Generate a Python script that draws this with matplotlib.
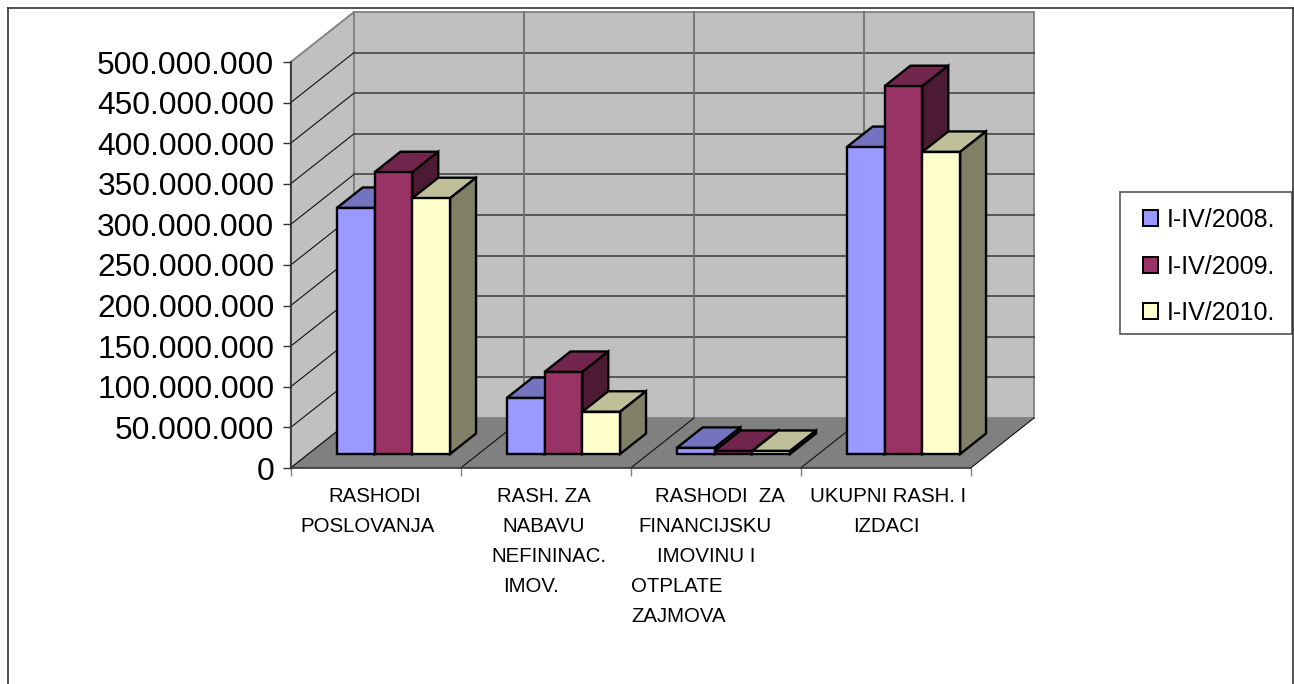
import matplotlib
matplotlib.use("Agg")
import matplotlib.pyplot as plt
from matplotlib.patches import Polygon, Patch, Rectangle
from matplotlib.lines import Line2D
from matplotlib.ticker import FuncFormatter

plt.rcParams['font.family'] = ['Liberation Sans', 'DejaVu Sans']

# ---- data
categories = ["RASHODI POSLOVANJA", "RASH. ZA NABAVU NEFININAC. IMOV.",
              "RASHODI ZA FINANCIJSKU IMOVINU I OTPLATE ZAJMOVA",
              "UKUPNI RASH. I IZDACI"]
series_names = ["I-IV/2008.", "I-IV/2009.", "I-IV/2010."]
values_2008 = [303e6, 69e6, 7.5e6, 378e6]
values_2009 = [347e6, 101e6, 3.7e6, 453e6]
values_2010 = [315e6, 52e6, 3.7e6, 372e6]
y_ticks = list(range(0, 500000001, 50000000))

# ---- label lines as broken in the picture (text, left px, centre px)
label_lines = [
    ("RASHODI", 328, 496), ("POSLOVANJA", 300, 526),
    ("RASH. ZA", 497, 496), ("NABAVU", 502, 526), ("NEFININAC.", 491, 557), ("IMOV.", 503, 587),
    ("RASHODI  ZA", 655, 496), ("FINANCIJSKU", 638, 526), ("IMOVINU I", 657, 557),
    ("OTPLATE", 631, 586), ("ZAJMOVA", 631, 616),
    ("UKUPNI RASH. I", 810, 496), ("IZDACI", 853, 526),
]

# ---- styles
W, H = 1294, 684
FRONT_L, FRONT_R, FRONT_T, FRONT_B = 290.7, 970.7, 62, 468
DEPTH_PX = (63.3, 50)
faces = [("#9999FF", "#7373BF", "#4D4D80"),
         ("#993366", "#73264D", "#4D1A33"),
         ("#FFFFCC", "#BFBF99", "#808066")]

fig = plt.figure(figsize=(W / 100, H / 100), dpi=100, facecolor="white")
ax = fig.add_axes([FRONT_L / W, 1 - FRONT_B / H, (FRONT_R - FRONT_L) / W, (FRONT_B - FRONT_T) / H])
n = len(categories)
ax.set_xlim(0, n)
ax.set_ylim(0, 500e6)
ax.patch.set_alpha(0)

DX = DEPTH_PX[0] / (FRONT_R - FRONT_L) * n
DY = DEPTH_PX[1] / (FRONT_B - FRONT_T) * 500e6


def P(x, v, d):
    """Oblique projection: category x, value v, depth d (0 front .. 1 back)."""
    return (x + d * DX, v + d * DY)


def poly(pts, fc, ec, lw, z):
    ax.add_patch(Polygon(pts, closed=True, facecolor=fc, edgecolor=ec, linewidth=lw,
                         joinstyle="miter", clip_on=False, zorder=z))


def line(a, b, c, lw, z=2):
    ax.add_line(Line2D([a[0], b[0]], [a[1], b[1]], color=c, linewidth=lw, clip_on=False, zorder=z))


top = y_ticks[-1]
# walls and floor
poly([P(0, 0, 0), P(0, 0, 1), P(0, top, 1), P(0, top, 0)], "#C0C0C0", "#808080", 1.3, 1)
poly([P(0, 0, 1), P(n, 0, 1), P(n, top, 1), P(0, top, 1)], "#C0C0C0", "#808080", 1.3, 1)
poly([P(0, 0, 0), P(n, 0, 0), P(n, 0, 1), P(0, 0, 1)], "#808080", "none", 0, 1)

# gridlines
for v in y_ticks[1:]:
    if v != top:
        line(P(0, v, 0), P(0, v, 1), "#111111", 0.8)
        line(P(0, v, 1), P(n, v, 1), "#3A3A3A", 1.1)
for i in range(1, n):
    line(P(i, 0, 1), P(i, top, 1), "#707070", 1.3)
for i in range(1, n + 1):
    line(P(i, 0, 0), P(i, 0, 1), "#111111", 0.8)
for v in y_ticks[:1]:
    line(P(0, v, 0), P(0, v, 1), "#111111", 0.8)

# bars
series = [values_2008, values_2009, values_2010]
GAP = 1.5
bar_w = 1 / (len(series) + GAP)
D0, D1 = 0.28, 0.69
BAR_LW = 1.7
z = 3
for c in range(n):
    for s, vals in enumerate(series):
        x0 = c + (GAP / 2 + s) * bar_w
        x1 = x0 + bar_w
        v = vals[c]
        front, tp, side = faces[s]
        poly([P(x0, v, D0), P(x1, v, D0), P(x1, v, D1), P(x0, v, D1)], tp, "black", BAR_LW, z)
        poly([P(x1, 0, D0), P(x1, 0, D1), P(x1, v, D1), P(x1, v, D0)], side, "black", BAR_LW, z)
        poly([P(x0, 0, D0), P(x1, 0, D0), P(x1, v, D0), P(x0, v, D0)], front, "black", BAR_LW, z)
        z += 1

# axes
for name in ("top", "right"):
    ax.spines[name].set_visible(False)
for name in ("left", "bottom"):
    ax.spines[name].set_color("#333333")
    ax.spines[name].set_linewidth(1.2)
    ax.spines[name].set_zorder(50)
ax.set_xticks(range(n + 1))
ax.set_xticklabels([])
ax.set_yticks(y_ticks)
ax.yaxis.set_major_formatter(FuncFormatter(lambda v, _: f"{int(v):,}".replace(",", ".")))
ax.tick_params(axis="y", length=5.8, width=1.0, color="#333333", pad=6, labelsize=22.85, labelcolor="black")
ax.tick_params(axis="x", length=5.8, width=1.0, color="#808080")

# category labels
for txt, px, py in label_lines:
    fig.text(px / W, 1 - py / H, txt, fontsize=14.7, ha="left", va="center", color="black")

# legend frame and entries
fig.add_artist(Rectangle((1120 / W, 1 - 334 / H), 172 / W, 142 / H, transform=fig.transFigure,
                         facecolor="white", edgecolor="#555555", linewidth=1.2))
handles = [Patch(facecolor=f[0], edgecolor="black", linewidth=1.4) for f in faces]
leg = fig.legend(handles, series_names, loc="upper left",
                 bbox_to_anchor=(1143 / W, 1 - 208 / H), bbox_transform=fig.transFigure,
                 fontsize=18, frameon=False,
                 handlelength=0.6, handleheight=0.6, handletextpad=0.34, labelspacing=0.9,
                 borderpad=0, borderaxespad=0)
leg.set_zorder(5)

# chart frame (no bottom edge)
for xs, ys in (([8, 8], [684, 7.5]), ([8, 1293], [7.5, 7.5]), ([1293, 1293], [7.5, 684])):
    fig.add_artist(Line2D([x / W for x in xs], [1 - y / H for y in ys], color="#222222", linewidth=1.1))

fig.savefig("out.png", dpi=100)
